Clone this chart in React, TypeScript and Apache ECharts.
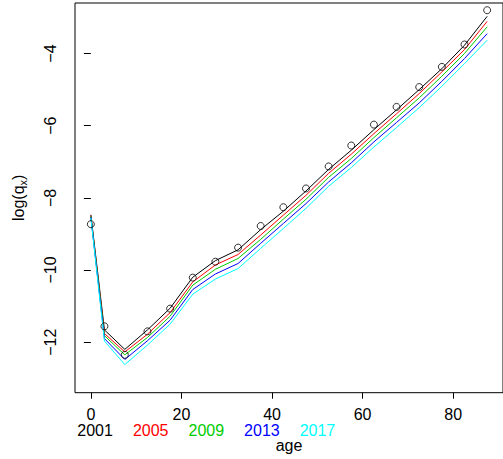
import React, { useEffect, useRef } from "react";
import * as echarts from "echarts";

const ages = [0, 3, 7.5, 12.5, 17.5, 22.5, 27.5, 32.5, 37.5, 42.5, 47.5, 52.5, 57.5, 62.5, 67.5, 72.5, 77.5, 82.5, 87.5];
const observed = [-8.73, -11.56, -12.35, -11.7, -11.07, -10.21, -9.77, -9.38, -8.78, -8.26, -7.74, -7.13, -6.55, -5.97, -5.48, -4.93, -4.37, -3.75, -2.8];
const fit2001 = [-8.47, -11.66, -12.2, -11.66, -11.06, -10.2, -9.74, -9.44, -8.88, -8.37, -7.81, -7.21, -6.68, -6.11, -5.56, -5.0, -4.42, -3.77, -2.97];
const fit2005 = [-8.49, -11.76, -12.27, -11.78, -11.18, -10.33, -9.86, -9.57, -9.03, -8.48, -7.93, -7.32, -6.79, -6.22, -5.67, -5.11, -4.51, -3.89, -3.11];
const fit2009 = [-8.51, -11.82, -12.35, -11.87, -11.28, -10.42, -9.98, -9.68, -9.15, -8.59, -8.04, -7.43, -6.91, -6.33, -5.78, -5.23, -4.63, -4.0, -3.26];
const fit2013 = [-8.53, -11.9, -12.48, -11.96, -11.39, -10.54, -10.11, -9.82, -9.26, -8.71, -8.16, -7.56, -7.03, -6.45, -5.91, -5.37, -4.77, -4.14, -3.45];
const fit2017 = [-8.55, -11.97, -12.62, -12.08, -11.5, -10.67, -10.25, -9.96, -9.4, -8.85, -8.29, -7.68, -7.16, -6.59, -6.05, -5.5, -4.91, -4.28, -3.63];

const years = ["2001", "2005", "2009", "2013", "2017"];
const fits = [fit2001, fit2005, fit2009, fit2013, fit2017];
const colors = ["#000000", "#FF0000", "#00CD00", "#0000FF", "#00FFFF"];
const xTicks = [0, 20, 40, 60, 80];
const yTicks = [-12, -10, -8, -6, -4];

const FONT = "'Liberation Sans', Arial, Helvetica, sans-serif";

export default function App() {
  const ref = useRef<HTMLDivElement>(null);
  useEffect(() => {
    if (!ref.current) return;
    const chart = echarts.init(ref.current, null, { renderer: "svg" });
    const lineSeries = years.map((y, i) => ({
      name: y,
      type: "line",
      data: ages.map((a, j) => [a, fits[i][j]]),
      showSymbol: false,
      symbol: "none",
      lineStyle: { color: colors[i], width: 1 },
      itemStyle: { color: colors[i] },
      z: 2 + i,
    }));
    chart.setOption({
      animation: false,
      textStyle: { fontFamily: FONT },
      grid: { left: 75, top: 3, right: -7.5, bottom: 66.3, show: true, borderColor: "#000", borderWidth: 1, backgroundColor: "transparent" },
      legend: {
        left: 72.3,
        top: 422,
        padding: 0,
        itemWidth: 0,
        itemHeight: 0,
        itemGap: 15,
        icon: "rect",
        selectedMode: false,
        data: years.map((y, i) => ({ name: y, textStyle: { color: colors[i], fontSize: 16, fontFamily: FONT } })),
      },
      xAxis: {
        type: "value",
        min: -3.5,
        max: 91,
        name: "age",
        nameLocation: "middle",
        nameGap: 45,
        nameTextStyle: { fontSize: 16, color: "#000", fontFamily: FONT },
        axisLine: { show: false },
        splitLine: { show: false },
        axisTick: { show: true, length: 6, customValues: xTicks, lineStyle: { color: "#000" } },
        axisLabel: { customValues: xTicks, fontSize: 16, color: "#000", margin: 14, fontFamily: FONT },
      },
      yAxis: {
        type: "value",
        min: -13.4,
        max: -2.6,
        name: "{a|log(q}{s|x}{a|)}",
        nameLocation: "middle",
        nameRotate: 90,
        nameGap: 47,
        nameTextStyle: {
          color: "#000",
          rich: {
            a: { fontSize: 16, fontFamily: FONT, color: "#000", lineHeight: 20 },
            s: { fontSize: 11, fontFamily: FONT, color: "#000", lineHeight: 20, verticalAlign: "bottom", padding: [6, 0, 0, 0] },
          },
        },
        axisLine: { show: false },
        splitLine: { show: false },
        axisTick: { show: true, length: 7, customValues: yTicks, lineStyle: { color: "#000" } },
        axisLabel: {
          customValues: yTicks,
          rotate: 90,
          fontSize: 16,
          color: "#000",
          margin: 17,
          fontFamily: FONT,
          formatter: (v: number) => String(v).replace("-", "\u2212"),
        },
      },
      series: [
        ...lineSeries,
        {
          name: "observed",
          type: "scatter",
          data: ages.map((a, j) => [a, observed[j]]),
          symbol: "circle",
          symbolSize: 7,
          itemStyle: { color: "transparent", borderColor: "#000", borderWidth: 1 },
          z: 10,
        },
      ],
    });
    return () => chart.dispose();
  }, []);
  return <div ref={ref} style={{ position: "absolute", left: 0, top: 0, width: 503, height: 459 }} />;
}
